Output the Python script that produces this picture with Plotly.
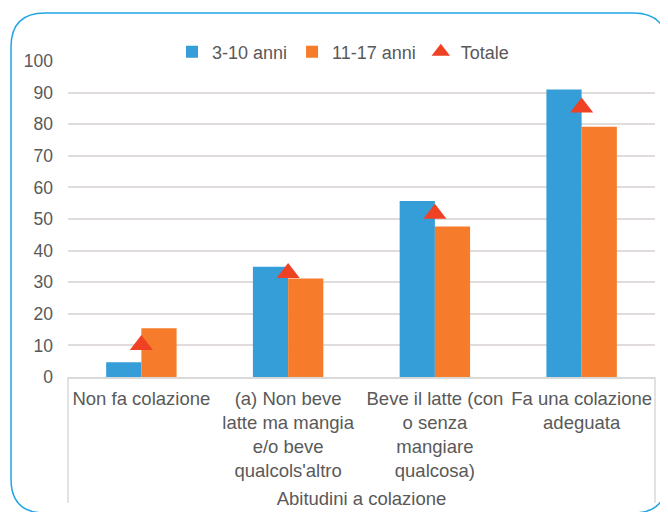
import plotly.graph_objects as go

categorie = [
    "Non fa colazione",
    "(a) Non beve<br>latte ma mangia<br>e/o beve<br>qualcols'altro",
    "Beve il latte (con<br>o senza<br>mangiare<br>qualcosa)",
    "Fa una colazione<br>adeguata",
]
anni_3_10 = [4.7, 34.9, 55.7, 91.0]
anni_11_17 = [15.4, 31.2, 47.6, 79.2]
totale = [10.1, 32.9, 51.7, 85.3]
y_ticks = list(range(0, 101, 10))

FONT = "Liberation Sans, Arial, sans-serif"
GREY = "#595959"


def main():
    fig = go.Figure()
    fig.add_trace(go.Bar(x=categorie, y=anni_3_10, name="3-10 anni",
                         marker=dict(color="#359ED8", line=dict(width=0))))
    fig.add_trace(go.Bar(x=categorie, y=anni_11_17, name="11-17 anni",
                         marker=dict(color="#F67B2B", line=dict(width=0))))
    fig.add_trace(go.Scatter(x=categorie, y=totale, name="Totale", mode="markers",
                             marker=dict(symbol="triangle-up", size=20, color="#EF4124")))

    # page body has an 8px margin, so the figure is 660x504 and coordinates
    # below are screen pixels; plot area is 68..655 x 61..377 on screen
    W, H = 587.0, 316.0

    def px(x):
        return (x - 68) / W

    def py(y):
        return (377 - y) / H

    x0, x1, y0, y1 = px(11), px(667), py(513), py(13)
    rx, ry = 34 / W, 34 / H
    border = (f"M {x0 + rx},{y1} L {x1 - rx},{y1} Q {x1},{y1} {x1},{y1 - ry} "
              f"L {x1},{y0 + ry} Q {x1},{y0} {x1 - rx},{y0} "
              f"L {x0 + rx},{y0} Q {x0},{y0} {x0},{y0 + ry} "
              f"L {x0},{y1 - ry} Q {x0},{y1} {x0 + rx},{y1} Z")

    shapes = [
        dict(type="path", xref="paper", yref="paper", path=border,
             line=dict(color="#22A6E3", width=1.5)),
        dict(type="line", xref="paper", yref="paper", x0=0, x1=0, y0=0, y1=py(503),
             line=dict(color="#D9D9D9", width=1.5)),
        dict(type="line", xref="paper", yref="paper", x0=1, x1=1, y0=0, y1=py(503),
             line=dict(color="#D9D9D9", width=1.5)),
    ]

    fig.update_layout(
        width=660, height=504,
        margin=dict(l=60, r=13, t=53, b=135, autoexpand=False),
        paper_bgcolor="white", plot_bgcolor="white",
        barmode="group", bargap=0.52, bargroupgap=0,
        font=dict(family=FONT, color=GREY, size=18),
        showlegend=True,
        legend=dict(orientation="h", x=px(343), xanchor="center", y=py(52), yanchor="middle",
                    font=dict(size=18, color=GREY), itemwidth=30, bgcolor="rgba(0,0,0,0)",
                    traceorder="normal"),
        shapes=shapes,
        xaxis=dict(showgrid=False, showline=True, linecolor="#D9D9D9", linewidth=1.5,
                   ticks="", ticklabelstandoff=4, tickfont=dict(size=18.5, color=GREY),
                   title=dict(text="Abitudini a colazione", font=dict(size=18.5, color=GREY),
                              standoff=12)),
        yaxis=dict(range=[0, 100], tickvals=y_ticks, showgrid=True, gridcolor="#E0DCDC",
                   gridwidth=1.5, zeroline=False, showline=False, ticks="",
                   ticklabelstandoff=14, tickfont=dict(size=17.5, color=GREY)),
    )
    fig.write_html("out.html")


if __name__ == "__main__":
    main()
